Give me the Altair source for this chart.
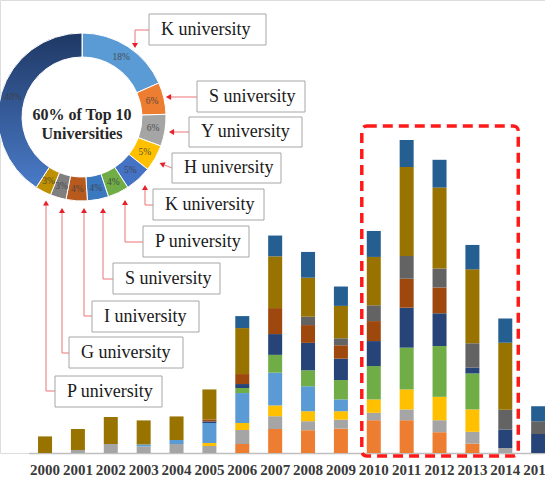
import altair as alt
import pandas as pd

# ---------------- data ----------------
years = [str(y) for y in range(2000, 2016)]
series = ["Series 1", "Series 2", "Series 3", "Series 4", "Series 5",
          "Series 6", "Series 7", "Series 8", "Series 9", "Series 10"]

s1_orange = [0, 0, 0, 0, 0, 0, 4.5, 12, 11.4, 12.2, 16.4, 16.4, 10.4, 4.7, 0, 0]
s2_gray = [0, 1.5, 4.5, 3.3, 4.5, 3.5, 7, 6.4, 4.5, 4.5, 3.7, 5.4, 6, 5.9, 2.5, 0]
s3_yellow = [0, 0, 0, 0, 0, 1.5, 3.5, 5.4, 5, 4.2, 6.7, 10, 11.7, 11.2, 0, 0]
s4_lightblue = [0, 0, 0, 1, 2, 10, 15, 16.4, 12.5, 5.9, 0, 0, 0, 0, 0, 0]
s5_green = [0, 0, 0, 0, 0, 0, 2.5, 8.9, 8, 9.7, 16.7, 20.9, 25.4, 18, 0, 0]
s6_navy = [0, 0, 0, 0, 0, 0.8, 2, 10.4, 13.7, 10.7, 12.5, 20, 16.4, 2.9, 9.2, 9.5]
s7_brown = [0, 0, 0, 0, 0, 1, 5, 13, 8.9, 6.7, 10, 14.5, 12.9, 0, 0, 0]
s8_darkgray = [0, 0, 0, 0, 0, 0, 0, 0, 4.2, 3.5, 7.9, 11.4, 9.5, 12.2, 10, 6.4]
s9_olive = [8.3, 10.5, 13.5, 12, 11.8, 15, 23, 25.9, 19.5, 16.2, 24.2, 44.5, 40.5, 37, 33.4, 0]
s10_blue = [0, 0, 0, 0, 0, 0, 6, 10.4, 12.9, 9.7, 13, 13.5, 13.9, 12.2, 12.2, 7.5]

series_values = [s1_orange, s2_gray, s3_yellow, s4_lightblue, s5_green,
                 s6_navy, s7_brown, s8_darkgray, s9_olive, s10_blue]
series_colors = ["#ED7D31", "#A5A5A5", "#FFC000", "#5B9BD5", "#70AD47",
                 "#264478", "#9E480E", "#636363", "#997300", "#255E91"]

donut_names = ["K university", "S university", "Y university", "H university",
               "K university", "P university", "S university", "I university",
               "G university", "P university", "Others"]
donut_pct = [18, 6, 6, 5, 5, 4, 4, 4, 3, 3, 40]
donut_colors = ["#5B9BD5", "#ED7D31", "#A5A5A5", "#FFC000", "#4472C4",
                "#70AD47", "#3A78BF", "#B85A1E", "#7F7F7F", "#BF9000", "#264478"]
center_text = "60% of Top 10\nUniversities"
highlight_years = ["2010", "2014"]

# ---------------- tables ----------------
rows = []
for si, (name, vals) in enumerate(zip(series, series_values)):
    for y, v in zip(years, vals):
        rows.append({"year": y, "series": name, "sidx": si, "value": v})
bar_df = pd.DataFrame(rows)
totals = bar_df.groupby("year")["value"].sum()

donut_df = pd.DataFrame({
    "idx": list(range(len(donut_pct))),
    "seg": [f"{i}" for i in range(len(donut_pct))],
    "name": donut_names,
    "pct": donut_pct,
    "label": [f"{p}%" for p in donut_pct],
})

# callout layout (pixels): boxes, leader paths, arrow heads
boxes = [(149, 14, 266, 45), (197, 81, 305, 112), (189, 117, 302, 147),
         (172, 153, 281, 183), (153, 189, 264, 220), (143, 226, 249, 257),
         (113, 263, 220, 294), (92, 301, 199, 332), (69, 337, 183, 368),
         (55, 376, 162, 407)]
paths = [[(149, 30), (135, 30), (135, 45)],
         [(197, 97), (168, 97)],
         [(189, 132), (171, 132)],
         [(172, 168), (162, 164)],
         [(153, 205), (145, 205), (145, 188)],
         [(143, 242), (125, 242), (125, 203)],
         [(113, 279), (103, 279), (103, 211)],
         [(92, 316), (84, 316), (84, 211)],
         [(69, 353), (62, 353), (62, 211)],
         [(55, 391), (46, 391), (46, 204)]]
heads = [(135, 45.5, 180), (168.5, 97, 270), (171.5, 132, 270), (162, 164, 293),
         (145, 187.5, 0), (125, 202.5, 0), (103, 210.5, 0), (84, 210.5, 0),
         (62, 210.5, 0), (46, 203, 0)]

box_df = pd.DataFrame([
    {"x0": b[0], "y0": b[1], "x1": b[2], "y1": b[3], "tx": b[0] + 12,
     "ty": (b[1] + b[3]) / 2, "text": donut_names[i]}
    for i, b in enumerate(boxes)])
seg_rows = []
for p in paths:
    for a, b in zip(p[:-1], p[1:]):
        seg_rows.append({"x": a[0], "y": a[1], "x2": b[0], "y2": b[1]})
seg_df = pd.DataFrame(seg_rows)
head_df = pd.DataFrame([{"x": h[0], "y": h[1], "ang": h[2]} for h in heads])

FONT = "Liberation Serif"

x_axis = alt.Axis(title=None, labelAngle=0, ticks=False, domainColor="#BFBFBF",
                  domainWidth=1.5, labelFont=FONT, labelFontSize=15,
                  labelFontWeight="bold", labelColor="#3A3A3A", labelPadding=9,
                  grid=False)
x_scale = alt.Scale(domain=years, range=[28.6, 554.6], paddingInner=0.574,
                    paddingOuter=0.287)

bars = alt.Chart(bar_df).mark_bar().encode(
    x=alt.X("year:O", scale=x_scale, axis=x_axis),
    y=alt.Y("value:Q", stack="zero",
            scale=alt.Scale(domain=[0, 226.65], nice=False), axis=None),
    color=alt.Color("series:N", scale=alt.Scale(domain=series, range=series_colors),
                    legend=None),
    order=alt.Order("sidx:Q", sort="ascending"),
)

rect_df = pd.DataFrame({"year": [highlight_years[0]], "year_end": [highlight_years[1]],
                        "top": [totals.loc["2010":"2014"].max() + 7], "bottom": [0]})
rect = alt.Chart(rect_df).mark_rect(
    fillOpacity=0, stroke="#FF1A1A", strokeWidth=3.5, strokeDash=[10, 6],
    cornerRadius=5, xOffset=-12, x2Offset=13, y2Offset=3
).encode(
    x=alt.X("year:O", scale=x_scale, axis=x_axis),
    x2="year_end:O",
    y=alt.Y("top:Q"),
    y2="bottom:Q",
)

CX, CY = 82, 117
arcs = alt.Chart(donut_df).mark_arc(
    outerRadius=84, innerRadius=60, stroke="white", strokeWidth=1
).encode(
    x=alt.value(CX), y=alt.value(CY),
    theta=alt.Theta("pct:Q", stack=True),
    color=alt.Color("seg:N", scale=alt.Scale(domain=list(donut_df["seg"]), range=donut_colors),
                    legend=None),
    order=alt.Order("idx:Q", sort="ascending"),
)
grad = alt.Gradient(gradient="linear",
                    stops=[alt.GradientStop(offset=0, color="#1F3864"),
                           alt.GradientStop(offset=1, color="#4A7BC8")],
                    x1=0, y1=0, x2=0, y2=1)
arc_grad = alt.Chart(donut_df).mark_arc(
    outerRadius=84, innerRadius=60, stroke="white", strokeWidth=1, fill=grad
).encode(
    x=alt.value(CX), y=alt.value(CY),
    theta=alt.Theta("pct:Q", stack=True),
    order=alt.Order("idx:Q", sort="ascending"),
    opacity=alt.condition(alt.datum.name == "Others", alt.value(1), alt.value(0)),
)
pct_text = alt.Chart(donut_df).mark_text(
    radius=72, font=FONT, fontSize=9.5, color="#404040", opacity=0.85
).encode(
    x=alt.value(CX), y=alt.value(CY),
    theta=alt.Theta("pct:Q", stack=True),
    order=alt.Order("idx:Q", sort="ascending"),
    text="label:N",
)
center = alt.Chart(donut_df.head(1)).mark_text(
    font=FONT, fontSize=16, fontWeight="bold", color="#262626",
    lineBreak="\n", lineHeight=19, align="center", baseline="middle"
).encode(x=alt.value(CX), y=alt.value(CY - 2.5), text=alt.value(center_text))

leaders = alt.Chart(seg_df).mark_rule(color="#F08A8A", strokeWidth=1.2).encode(
    x=alt.X("x:Q", scale=None), y=alt.Y("y:Q", scale=None),
    x2="x2:Q", y2="y2:Q")
arrowheads = alt.Chart(head_df).mark_point(
    shape="triangle-up", filled=True, size=36, color="#E8202A", opacity=1
).encode(
    x=alt.X("x:Q", scale=None), y=alt.Y("y:Q", scale=None),
    angle=alt.Angle("ang:Q", scale=None))
box_rects = alt.Chart(box_df).mark_rect(
    fill="white", stroke="#A6A6A6", strokeWidth=1
).encode(
    x=alt.X("x0:Q", scale=None), x2="x1:Q",
    y=alt.Y("y0:Q", scale=None), y2="y1:Q")
box_text = alt.Chart(box_df).mark_text(
    font=FONT, fontSize=18, color="#1A1A1A", align="left", baseline="middle"
).encode(
    x=alt.X("tx:Q", scale=None), y=alt.Y("ty:Q", scale=None), text="text:N")

chart = alt.layer(
    bars, rect, arcs, arc_grad, pct_text, center, leaders, arrowheads, box_rects, box_text
).resolve_scale(color="independent").properties(
    width=545, height=453,
    autosize=alt.AutoSizeParams(type="none"),
    padding={"left": 0, "top": 0, "right": 0, "bottom": 24},
).configure_view(stroke=None).configure(background="white")

chart.save("out.html", embed_options={"renderer": "svg", "actions": False})
